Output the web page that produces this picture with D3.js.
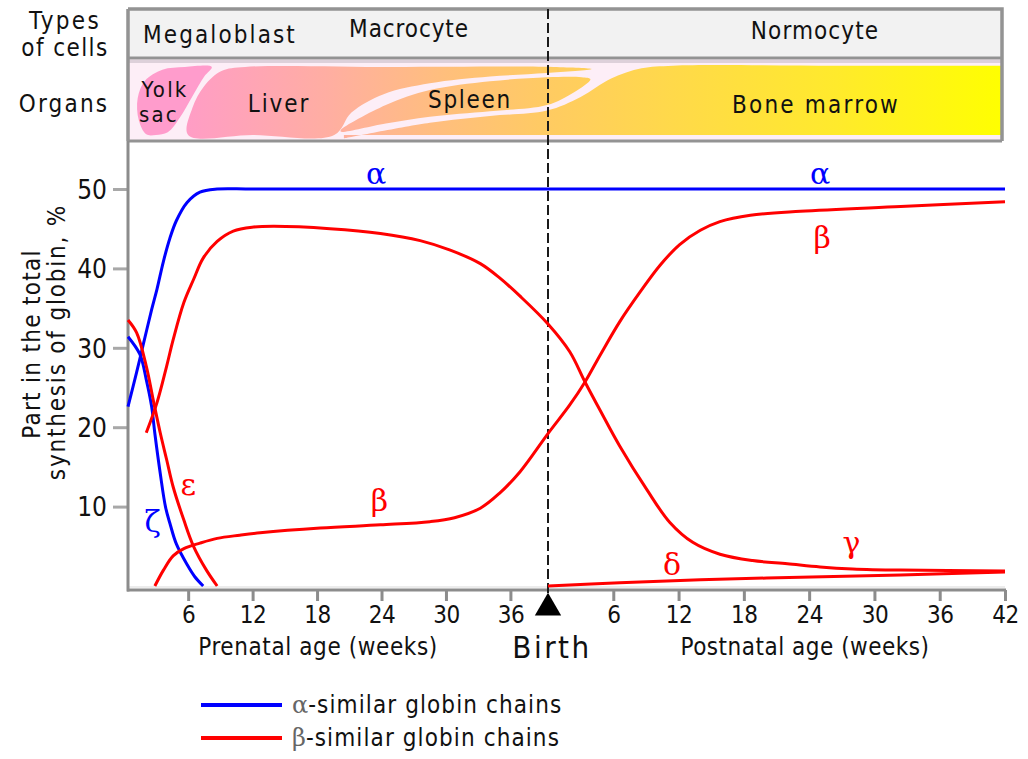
<!DOCTYPE html>
<html>
<head>
<meta charset="utf-8">
<script src="https://cdn.jsdelivr.net/npm/d3@7"></script>
<style>
  html, body { margin: 0; padding: 0; background: #fff; }
  svg { display: block; }
</style>
</head>
<body>
<svg id="chart" width="1028" height="759"></svg>
<script>
// Ages are in weeks since conception; birth falls at BIRTH.
const BIRTH = 39.5;
const AGE_END = 81.5;
const prenatalTicks = [6, 12, 18, 24, 30, 36];
const postnatalTicks = [6, 12, 18, 24, 30, 36, 42];
const yTicks = [10, 20, 30, 40, 50];

const cellTypes = ["Megaloblast", "Macrocyte", "Normocyte"];
const organNames = ["Yolk sac", "Liver", "Spleen", "Bone marrow"];

// [age (weeks), share of total globin synthesis (%)]
const alphaChain = [[0.4,22.6],[1.2,26.9],[1.8,30.3],[2.6,34.8],[3.1,37.4],[3.7,40.9],[4.3,43.8],[4.9,46.0],[5.9,48.3],[7.1,49.6],[8.7,50],[12,50],[30,50],[50,50],[70,50],[81.5,50]];
const zetaChain = [[0.4,31.4],[1.5,29.2],[2.1,26.0],[2.6,22.6],[2.9,19.2],[3.4,14.2],[3.9,9.9],[4.3,7.9],[4.9,5.3],[5.9,2.7],[6.6,1.2],[7.4,0]];
const epsilonChain = [[0.4,33.5],[1.2,31.9],[2.1,27.7],[2.8,23.1],[3.4,19.3],[4.0,15.9],[4.6,12.5],[5.6,8.3],[6.5,5.0],[7.7,2.0],[8.7,0]];
const gammaChain = [[2.1,19.3],[3.1,23.1],[4.0,27.7],[4.6,31.0],[5.6,35.7],[6.5,38.6],[7.4,41.3],[8.7,43.4],[10.2,44.7],[12.1,45.2],[14,45.3],[19.2,45.0],[23.9,44.4],[27.6,43.5],[30.4,42.3],[33.2,40.6],[35.0,38.8],[36.9,36.5],[39.5,33.0],[41.5,29.5],[42.9,25.7],[44.3,22.1],[46.1,17.6],[48.6,12.1],[50.7,8.0],[52.8,5.5],[55.3,4.0],[58.3,3.2],[61.5,2.8],[64.5,2.4],[67.5,2.15],[71.9,2.0],[81.5,1.9]];
const betaChain = [[2.9,0],[3.7,2.0],[4.6,3.8],[5.6,4.7],[7.1,5.4],[8.7,6.0],[10.8,6.4],[12.7,6.7],[18.3,7.3],[23.9,7.7],[28.5,8.1],[30.8,8.6],[33.2,9.8],[35.0,11.7],[36.9,14.4],[39.5,19.2],[41.5,22.8],[42.9,25.7],[44.3,29.1],[46.1,33.3],[48.0,37.1],[49.8,40.4],[51.6,43.0],[53.5,44.8],[55.3,45.9],[58.1,46.7],[62.7,47.2],[71.9,47.8],[81.5,48.4]];
const deltaChain = [[39.5,0],[46.1,0.4],[53.5,0.8],[62.7,1.1],[71.9,1.4],[81.5,1.75]];

const series = [
  { name: "alpha", data: alphaChain, family: "alpha" },
  { name: "zeta", data: zetaChain, family: "alpha" },
  { name: "epsilon", data: epsilonChain, family: "beta" },
  { name: "gamma", data: gammaChain, family: "beta" },
  { name: "beta", data: betaChain, family: "beta" },
  { name: "delta", data: deltaChain, family: "beta" }
];

// Greek chain labels: [symbol, age, value at baseline, family]
const chainLabels = [
  ["α", 23.5, 50.6, "alpha"],
  ["α", 64.5, 50.6, "alpha"],
  ["β", 64.7, 42.6, "beta"],
  ["β", 23.8, 9.5, "beta"],
  ["ε", 6.0, 11.5, "beta"],
  ["ζ", 2.7, 6.8, "alpha"],
  ["γ", 67.4, 4.2, "beta"],
  ["δ", 50.9, 1.4, "beta"]
];

const legendItems = [
  { sym: "α", text: "-similar globin chains", family: "alpha" },
  { sym: "β", text: "-similar globin chains", family: "beta" }
];

const COLORS = { alpha: "#0000ff", beta: "#ff0000" };
const FONT = "'DejaVu Sans Condensed', 'DejaVu Sans', sans-serif";
const GREEK = "'DejaVu Serif', 'Liberation Serif', serif";
const AXIS_GRAY = "#8c8c8c";

const svg = d3.select("#chart");

const x = d3.scaleLinear().domain([0.4, BIRTH, AGE_END]).range([128, 548, 1005]);
const y = d3.scaleLinear().domain([0, 50]).range([586, 189]);

const plotTop = 141, axisY = 590;

// ---------- Header: cell types and organs ----------
const hdrLeft = 128, hdrRight = 1002;
const header = svg.append("g");

header.append("rect")
  .attr("x", hdrLeft).attr("y", 9).attr("width", hdrRight - hdrLeft).attr("height", 49)
  .attr("fill", "#f2f2f2");
header.append("rect")
  .attr("x", hdrLeft).attr("y", 59).attr("width", hdrRight - hdrLeft).attr("height", 81)
  .attr("fill", "#fdeef7");
header.append("rect")
  .attr("x", hdrLeft).attr("y", 60).attr("width", hdrRight - hdrLeft).attr("height", 3)
  .attr("fill", "#ddd0da");

const defs = svg.append("defs");
defs.append("clipPath").attr("id", "bandClip")
  .append("rect").attr("x", hdrLeft).attr("y", 63).attr("width", hdrRight - hdrLeft).attr("height", 76);
const grad = defs.append("linearGradient")
  .attr("id", "organGrad").attr("gradientUnits", "userSpaceOnUse")
  .attr("x1", x(5)).attr("x2", x(AGE_END)).attr("y1", 0).attr("y2", 0);
[[x(5), "#ff9cc8"], [x(19), "#ffaea2"], [x(30), "#ffbf7c"], [x(BIRTH), "#ffcb62"], [x(50), "#ffd84c"], [x(66), "#ffea2c"], [x(AGE_END), "#ffff00"]]
  .forEach(([px, c]) => grad.append("stop").attr("offset", (px - x(5)) / (x(AGE_END) - x(5))).attr("stop-color", c));

// vertical position inside the organ band: 0 = top edge, 1 = bottom edge
const band = d3.scaleLinear().domain([0, 1]).range([67, 135]);
const closed = d3.line().x(d => x(d[0])).y(d => band(d[1])).curve(d3.curveCatmullRomClosed.alpha(0.5));
const poly = d3.line().x(d => x(d[0])).y(d => band(d[1])).curve(d3.curveCatmullRom.alpha(0.5));

const yolkSac = [[2.1,0.99],[1.4,0.78],[1.3,0.46],[2.0,0.2],[3.6,0.04],[5.7,0],[8.2,0],[7.5,0.14],[6.4,0.43],[5.2,0.75],[4.1,0.96],[3.0,1]];
const liver = [[6.0,1],[6.4,0.6],[7.5,0.28],[9.1,0.06],[11.3,0],[25,0],[40,0],[43.5,0.03],[39.4,0.09],[34.1,0.14],[28.5,0.24],[24.2,0.4],[21.2,0.67],[19.6,1],[12,1]];
const spleen = [[20.2,0.93],[24.4,0.56],[28.5,0.34],[34.1,0.21],[39.4,0.15],[42.6,0.15],[43.4,0.18],[41.9,0.37],[39.4,0.56],[34.1,0.65],[28.5,0.73],[24.4,0.83],[20.2,0.95]];
const marrowTop = [[20.5,1.05],[28.5,0.82],[34.1,0.72],[39.4,0.64],[42.5,0.44],[45.3,0.17],[48.1,0.02],[51,-0.02],[66,-0.02],[AGE_END + 2,-0.02]];

const organLayer = header.append("g").attr("clip-path", "url(#bandClip)");
[liver, spleen].forEach(shape =>
  organLayer.append("path").attr("d", closed(shape)).attr("fill", "url(#organGrad)"));
organLayer.append("path")
  .attr("d", poly(marrowTop) + `L${x(AGE_END) + 10},${band(1)}L${x(20.5)},${band(1)}Z`)
  .attr("fill", "url(#organGrad)");
organLayer.append("path").attr("d", closed(yolkSac)).attr("fill", "#ff9ccc");

// header frame
header.append("path")
  .attr("d", `M${hdrLeft},9 H${hdrRight} V141 M${hdrLeft},9 V141`)
  .attr("fill", "none").attr("stroke", "#939393").attr("stroke-width", 3.5);
header.append("line")
  .attr("x1", hdrLeft).attr("x2", hdrRight).attr("y1", 58).attr("y2", 58)
  .attr("stroke", "#939393").attr("stroke-width", 3);
header.append("line")
  .attr("x1", hdrLeft).attr("x2", hdrRight).attr("y1", plotTop).attr("y2", plotTop)
  .attr("stroke", "#939393").attr("stroke-width", 3);

const txt = (g, s, px, py, opts = {}) => g.append("text")
  .attr("x", px).attr("y", py)
  .attr("text-anchor", opts.anchor || "middle")
  .attr("font-family", opts.font || FONT)
  .attr("font-size", opts.size || 24)
  .attr("letter-spacing", opts.spacing != null ? opts.spacing : 2)
  .attr("fill", opts.fill || "#111")
  .text(s);

txt(header, "Types", 65, 29, { spacing: 2.3 });
txt(header, "of cells", 65, 56, { spacing: 1.4 });
txt(header, "Organs", 64, 112, { spacing: 2.2 });

txt(header, cellTypes[0], 220, 43, { spacing: 2.1 });
txt(header, cellTypes[1], 409, 37, { spacing: 0.9 });
txt(header, cellTypes[2], 815, 39, { spacing: 1.1 });

txt(header, "Yolk", 165, 97, { size: 22, spacing: 2.2 });
txt(header, "sac", 159, 122, { size: 22, spacing: 2.2 });
txt(header, organNames[1], 279, 112, { spacing: 1.9 });
txt(header, organNames[2], 470, 108, { spacing: 1.7 });
txt(header, organNames[3], 816, 113, { spacing: 2.2 });

// ---------- Axes ----------
const axes = svg.append("g");

const yAxis = d3.axisLeft(y).tickValues(yTicks).tickSize(15).tickPadding(6).tickSizeOuter(0);
const gy = axes.append("g").attr("transform", "translate(128,0)").call(yAxis);
gy.select(".domain").remove();
gy.selectAll(".tick line").attr("stroke", "#a8a8a8").attr("stroke-width", 3);
gy.selectAll(".tick text").attr("font-family", FONT).attr("font-size", 26).attr("letter-spacing", 0)
  .attr("fill", "#111").attr("dy", "0.36em");

const gxPre = axes.append("g").attr("transform", `translate(0,${axisY})`)
  .call(d3.axisBottom(x).tickValues(prenatalTicks).tickSize(11).tickPadding(5).tickSizeOuter(0));
const gxPost = axes.append("g").attr("transform", `translate(0,${axisY})`)
  .call(d3.axisBottom(x).tickValues(postnatalTicks.map(p => BIRTH + p))
    .tickFormat(t => d3.format("d")(t - BIRTH)).tickSize(11).tickPadding(5).tickSizeOuter(0));
[gxPre, gxPost].forEach(g => {
  g.select(".domain").remove();
  g.selectAll(".tick line").attr("stroke", AXIS_GRAY).attr("stroke-width", 3);
  g.selectAll(".tick text").attr("font-family", FONT).attr("font-size", 24).attr("letter-spacing", -0.5)
    .attr("fill", "#111");
});

axes.append("line").attr("x1", 129).attr("x2", x(AGE_END)).attr("y1", axisY - 3).attr("y2", axisY - 3)
  .attr("stroke", "#ececec").attr("stroke-width", 2);
axes.append("line").attr("x1", 128).attr("x2", 128).attr("y1", plotTop).attr("y2", axisY + 1.5)
  .attr("stroke", AXIS_GRAY).attr("stroke-width", 3);
axes.append("line").attr("x1", 127).attr("x2", x(AGE_END) + 1).attr("y1", axisY).attr("y2", axisY)
  .attr("stroke", AXIS_GRAY).attr("stroke-width", 3);

txt(axes, "Prenatal age (weeks)", 318, 655, { size: 24, spacing: 0.6 });
txt(axes, "Postnatal age (weeks)", 805, 655, { size: 24, spacing: 0.5 });
txt(axes, "Birth", x(BIRTH) + 4, 658, { size: 31, spacing: 2.5 });

const yLab = axes.append("g");
yLab.append("text").attr("transform", "translate(40,344) rotate(-90)")
  .attr("text-anchor", "middle").attr("font-family", FONT).attr("font-size", 24)
  .attr("letter-spacing", 1.3).attr("fill", "#111").text("Part in the total");
yLab.append("text").attr("transform", "translate(65,342) rotate(-90)")
  .attr("text-anchor", "middle").attr("font-family", FONT).attr("font-size", 24)
  .attr("letter-spacing", 1.8).attr("fill", "#111").text("synthesis of globin, %");

// ---------- Birth marker ----------
svg.append("line")
  .attr("x1", x(BIRTH)).attr("x2", x(BIRTH)).attr("y1", 9).attr("y2", 597)
  .attr("stroke", "#1a1a1a").attr("stroke-width", 2).attr("stroke-dasharray", "10,4");
svg.append("path")
  .attr("d", d3.symbol().type(d3.symbolTriangle).size(300)())
  .attr("transform", `translate(${x(BIRTH)},${608})`)
  .attr("fill", "#000");

// ---------- Curves ----------
const line = d3.line().x(d => x(d[0])).y(d => y(d[1])).curve(d3.curveCatmullRom.alpha(0.5));
const curves = svg.append("g").attr("fill", "none").attr("stroke-width", 3).attr("stroke-linecap", "butt");
series.forEach(s => {
  curves.append("path").attr("d", line(s.data)).attr("stroke", COLORS[s.family]);
});

chainLabels.forEach(([sym, age, val, fam]) => {
  svg.append("text")
    .attr("x", x(age)).attr("y", y(val))
    .attr("text-anchor", "middle")
    .attr("font-family", GREEK).attr("font-size", 30)
    .attr("fill", COLORS[fam])
    .text(sym);
});

// ---------- Legend ----------
const legend = svg.append("g");
legendItems.forEach((d, i) => {
  const ly = 705 + i * 33;
  legend.append("line").attr("x1", 201).attr("x2", 282).attr("y1", ly).attr("y2", ly)
    .attr("stroke", COLORS[d.family]).attr("stroke-width", 4);
  const t = legend.append("text").attr("x", 292).attr("y", ly + 8)
    .attr("font-family", FONT).attr("font-size", 24).attr("letter-spacing", 1.1).attr("fill", "#111");
  t.append("tspan").attr("font-family", GREEK).attr("fill", "#666").attr("letter-spacing", 0).text(d.sym);
  t.append("tspan").text(d.text);
});
</script>
</body>
</html>
